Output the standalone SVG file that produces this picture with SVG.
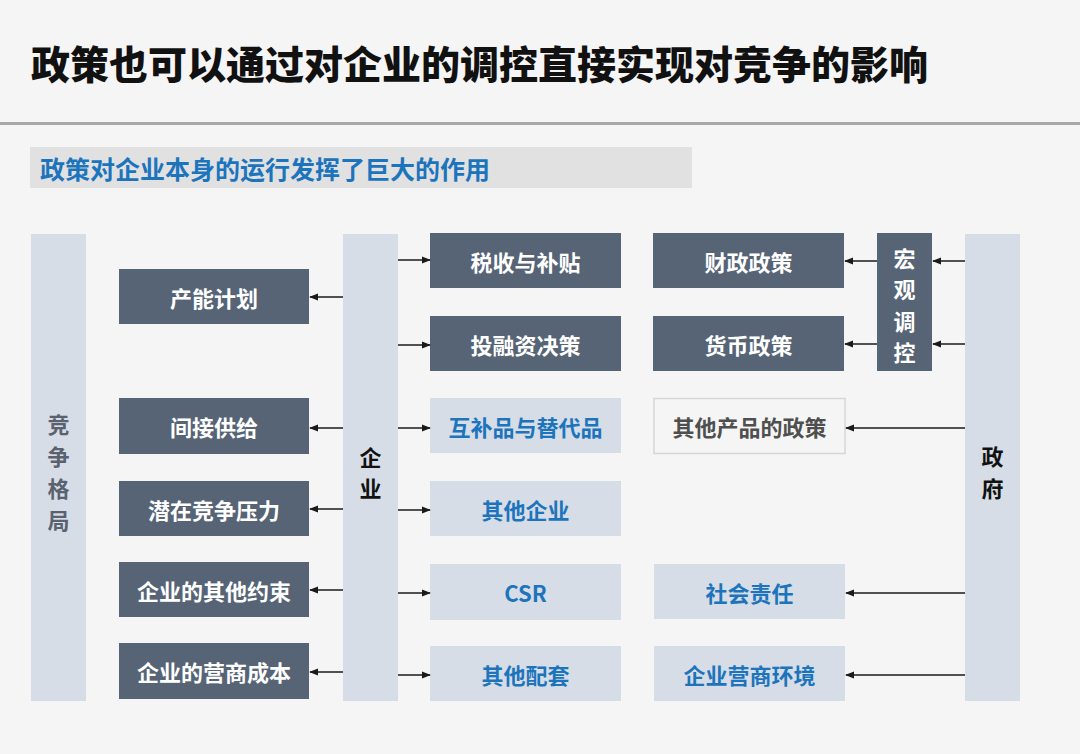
<svg xmlns="http://www.w3.org/2000/svg" width="1080" height="754" viewBox="0 0 1080 754">
<defs>
<style>
text{font-family:"Noto Sans CJK SC","Noto Sans",sans-serif;font-weight:700;dominant-baseline:central;text-anchor:middle}
.dark{fill:#566476}
.light{fill:#d6dde6}
.col{fill:#d6dde6}
.wt{fill:#ffffff;font-size:22px}
.bt{fill:#1c74bd;font-size:22px}
.gt{fill:#5a6270;font-size:22px}
.conn line{stroke:#1a1a1a;stroke-width:1.5}
</style>
<marker id="ah" viewBox="0 0 10 10" refX="9" refY="5" markerWidth="9" markerHeight="9" markerUnits="userSpaceOnUse" orient="auto">
<path d="M0,1 L10,5 L0,9 Z" fill="#1a1a1a"/>
</marker>
</defs>
<rect x="0" y="0" width="1080" height="754" fill="#f5f5f5"/>
<text x="31" y="62" style="text-anchor:start;font-size:39px;font-weight:900;fill:#111">政策也可以通过对企业的调控直接实现对竞争的影响</text>
<rect x="0" y="122" width="1080" height="3" fill="#a8a8a8"/>
<rect x="30" y="147" width="662" height="41" fill="#e1e1e1"/>
<text x="40" y="168" style="text-anchor:start;font-size:25px;fill:#1c74bd">政策对企业本身的运行发挥了巨大的作用</text>

<g id="jingzheng">
<rect class="col" x="31" y="234" width="55" height="467"/>
<text class="gt" x="58.5" y="423">竞</text>
<text class="gt" x="58.5" y="455">争</text>
<text class="gt" x="58.5" y="487">格</text>
<text class="gt" x="58.5" y="519">局</text>
</g>
<g id="qiye">
<rect class="col" x="343" y="234" width="55" height="467"/>
<text x="370.5" y="456" style="font-size:22px;fill:#111">企</text>
<text x="370.5" y="487" style="font-size:22px;fill:#111">业</text>
</g>
<g id="zhengfu">
<rect class="col" x="965" y="234" width="55" height="467"/>
<text x="992.5" y="455" style="font-size:22px;fill:#111">政</text>
<text x="992.5" y="487" style="font-size:22px;fill:#111">府</text>
</g>
<g id="hongguan">
<rect class="dark" x="877" y="233" width="55" height="138"/>
<text class="wt" x="904.5" y="257">宏</text>
<text class="wt" x="904.5" y="288">观</text>
<text class="wt" x="904.5" y="320">调</text>
<text class="wt" x="904.5" y="351">控</text>
</g>

<g id="channeng"><rect class="dark" x="119" y="269" width="190" height="55"/><text class="wt" x="214" y="296.5">产能计划</text></g>
<g id="jianjie"><rect class="dark" x="119" y="398" width="190" height="56"/><text class="wt" x="214" y="426">间接供给</text></g>
<g id="qianzai"><rect class="dark" x="119" y="481" width="190" height="55"/><text class="wt" x="214" y="508.5">潜在竞争压力</text></g>
<g id="yueshu"><rect class="dark" x="119" y="562" width="190" height="55"/><text class="wt" x="214" y="589.5">企业的其他约束</text></g>
<g id="chengben"><rect class="dark" x="119" y="643" width="190" height="56"/><text class="wt" x="214" y="671">企业的营商成本</text></g>

<g id="shuishou"><rect class="dark" x="430" y="233" width="191" height="55"/><text class="wt" x="525.5" y="260.5">税收与补贴</text></g>
<g id="tourongzi"><rect class="dark" x="430" y="316" width="191" height="55"/><text class="wt" x="525.5" y="343.5">投融资决策</text></g>
<g id="hubu"><rect class="light" x="430" y="398" width="191" height="55"/><text class="bt" x="525.5" y="426">互补品与替代品</text></g>
<g id="qitaqiye"><rect class="light" x="430" y="481" width="191" height="55"/><text class="bt" x="525.5" y="508.5">其他企业</text></g>
<g id="csr"><rect class="light" x="430" y="564" width="191" height="56"/><text class="bt" x="525.5" y="592">CSR</text></g>
<g id="peitao"><rect class="light" x="430" y="646" width="191" height="55"/><text class="bt" x="525.5" y="673.5">其他配套</text></g>

<g id="caizheng"><rect class="dark" x="653" y="233" width="191" height="55"/><text class="wt" x="748.5" y="260.5">财政政策</text></g>
<g id="huobi"><rect class="dark" x="653" y="316" width="191" height="55"/><text class="wt" x="748.5" y="343.5">货币政策</text></g>
<g id="qitachanpin"><rect x="654" y="398.5" width="191" height="55" fill="#f5f5f5" stroke="#d6d6d6" stroke-width="1.5"/><text x="749.5" y="426" style="font-size:22px;fill:#4f4f4f">其他产品的政策</text></g>
<g id="shehui"><rect class="light" x="654" y="564" width="191" height="55"/><text class="bt" x="749.5" y="591.5">社会责任</text></g>
<g id="yingshang"><rect class="light" x="654" y="646" width="191" height="55"/><text class="bt" x="749.5" y="673.5">企业营商环境</text></g>

<g id="connectors" class="conn">
<line x1="343" y1="297" x2="310" y2="297" marker-end="url(#ah)"/>
<line x1="343" y1="428" x2="310" y2="428" marker-end="url(#ah)"/>
<line x1="343" y1="509" x2="310" y2="509" marker-end="url(#ah)"/>
<line x1="343" y1="590" x2="310" y2="590" marker-end="url(#ah)"/>
<line x1="343" y1="672" x2="310" y2="672" marker-end="url(#ah)"/>
<line x1="398" y1="260" x2="430" y2="260" marker-end="url(#ah)"/>
<line x1="398" y1="345" x2="430" y2="345" marker-end="url(#ah)"/>
<line x1="398" y1="428" x2="430" y2="428" marker-end="url(#ah)"/>
<line x1="398" y1="510" x2="430" y2="510" marker-end="url(#ah)"/>
<line x1="398" y1="593" x2="430" y2="593" marker-end="url(#ah)"/>
<line x1="398" y1="675" x2="430" y2="675" marker-end="url(#ah)"/>
<line x1="877" y1="261" x2="845" y2="261" marker-end="url(#ah)"/>
<line x1="877" y1="344" x2="845" y2="344" marker-end="url(#ah)"/>
<line x1="965" y1="261" x2="933" y2="261" marker-end="url(#ah)"/>
<line x1="965" y1="344" x2="933" y2="344" marker-end="url(#ah)"/>
<line x1="965" y1="428" x2="846" y2="428" marker-end="url(#ah)"/>
<line x1="965" y1="593" x2="846" y2="593" marker-end="url(#ah)"/>
<line x1="965" y1="675" x2="846" y2="675" marker-end="url(#ah)"/>
</g>
</svg>
